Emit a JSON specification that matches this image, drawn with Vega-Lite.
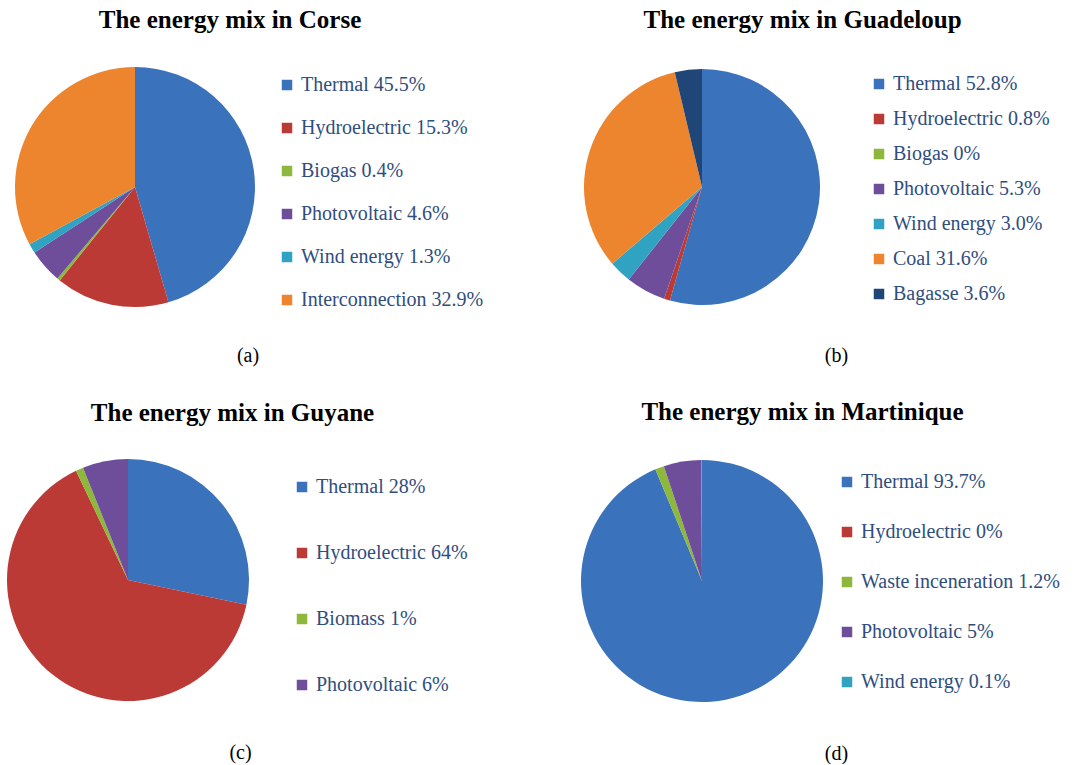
{
  "$schema": "https://vega.github.io/schema/vega-lite/v6.json",
  "background": "white",
  "padding": {"left": 3, "top": 8, "right": 0, "bottom": 0},
  "config": {
    "view": {"stroke": null},
    "title": {"font": "Liberation Serif", "fontSize": 25, "fontWeight": "bold", "color": "#000000"},
    "legend": {"labelFont": "Liberation Serif", "labelFontSize": 20, "labelColor": "#2F4E7E", "symbolType": "square", "symbolSize": 110, "symbolStrokeWidth": 0, "labelOffset": 4, "labelLimit": 400}
  },
  "datasets": {
    "corse": [
      {"source": "Thermal", "value": 45.5, "label": "Thermal 45.5%", "order": 1},
      {"source": "Hydroelectric", "value": 15.3, "label": "Hydroelectric 15.3%", "order": 2},
      {"source": "Biogas", "value": 0.4, "label": "Biogas 0.4%", "order": 3},
      {"source": "Photovoltaic", "value": 4.6, "label": "Photovoltaic 4.6%", "order": 4},
      {"source": "Wind energy", "value": 1.3, "label": "Wind energy 1.3%", "order": 5},
      {"source": "Interconnection", "value": 32.9, "label": "Interconnection 32.9%", "order": 6}
    ],
    "guadeloupe": [
      {"source": "Thermal", "value": 52.8, "label": "Thermal 52.8%", "order": 1},
      {"source": "Hydroelectric", "value": 0.8, "label": "Hydroelectric 0.8%", "order": 2},
      {"source": "Biogas", "value": 0, "label": "Biogas 0%", "order": 3},
      {"source": "Photovoltaic", "value": 5.3, "label": "Photovoltaic 5.3%", "order": 4},
      {"source": "Wind energy", "value": 3.0, "label": "Wind energy 3.0%", "order": 5},
      {"source": "Coal", "value": 31.6, "label": "Coal 31.6%", "order": 6},
      {"source": "Bagasse", "value": 3.6, "label": "Bagasse 3.6%", "order": 7}
    ],
    "guyane": [
      {"source": "Thermal", "value": 28, "label": "Thermal 28%", "order": 1},
      {"source": "Hydroelectric", "value": 64, "label": "Hydroelectric 64%", "order": 2},
      {"source": "Biomass", "value": 1, "label": "Biomass 1%", "order": 3},
      {"source": "Photovoltaic", "value": 6, "label": "Photovoltaic 6%", "order": 4}
    ],
    "martinique": [
      {"source": "Thermal", "value": 93.7, "label": "Thermal 93.7%", "order": 1},
      {"source": "Hydroelectric", "value": 0, "label": "Hydroelectric 0%", "order": 2},
      {"source": "Waste inceneration", "value": 1.2, "label": "Waste inceneration 1.2%", "order": 3},
      {"source": "Photovoltaic", "value": 5, "label": "Photovoltaic 5%", "order": 4},
      {"source": "Wind energy", "value": 0.1, "label": "Wind energy 0.1%", "order": 5}
    ]
  },
  "resolve": {"scale": {"color": "independent"}, "legend": {"color": "independent"}},
  "spacing": 80,
  "hconcat": [
    {
      "resolve": {"scale": {"color": "independent"}, "legend": {"color": "independent"}},
      "spacing": 35,
      "vconcat": [
        {
          "resolve": {"scale": {"color": "independent"}, "legend": {"color": "independent"}},
          "title": {"text": "(a)", "orient": "bottom", "fontSize": 20, "fontWeight": "normal", "anchor": "middle", "frame": "bounds", "offset": 23, "dx": -2},
          "vconcat": [
            {
              "resolve": {"scale": {"color": "independent"}, "legend": {"color": "independent"}},
              "title": {"text": "The energy mix in Corse", "anchor": "middle", "frame": "bounds", "dx": -20, "offset": 29},
              "vconcat": [
                {
                  "width": 264, "height": 250,
                  "data": {"name": "corse"},
                  "mark": {"type": "arc", "radius": 120},
                  "encoding": {
                    "theta": {"field": "value", "type": "quantitative", "stack": true},
                    "order": {"field": "order", "type": "quantitative"},
                    "color": {"field": "label", "type": "nominal", "sort": {"field": "order", "op": "min"},
                      "scale": {"range": ["#3A72BC", "#BC3A36", "#8DB83C", "#6E4D9B", "#31A3C2", "#EC852E"]},
                      "legend": {"title": null, "offset": -3, "padding": 13, "rowPadding": 23}}
                  }
                }
              ]
            }
          ]
        },
        {
          "resolve": {"scale": {"color": "independent"}, "legend": {"color": "independent"}},
          "title": {"text": "(c)", "orient": "bottom", "fontSize": 20, "fontWeight": "normal", "anchor": "middle", "frame": "bounds", "offset": 26, "dx": -6},
          "vconcat": [
            {
              "resolve": {"scale": {"color": "independent"}, "legend": {"color": "independent"}},
              "title": {"text": "The energy mix in Guyane", "anchor": "middle", "frame": "bounds", "dx": -14, "offset": 29},
              "vconcat": [
                {
                  "width": 250, "height": 250,
                  "data": {"name": "guyane"},
                  "mark": {"type": "arc", "radius": 121},
                  "encoding": {
                    "theta": {"field": "value", "type": "quantitative", "stack": true},
                    "order": {"field": "order", "type": "quantitative"},
                    "color": {"field": "label", "type": "nominal", "sort": {"field": "order", "op": "min"},
                      "scale": {"range": ["#3A72BC", "#BC3A36", "#8DB83C", "#6E4D9B"]},
                      "legend": {"title": null, "offset": 17, "padding": 22, "rowPadding": 46}}
                  }
                }
              ]
            }
          ]
        }
      ]
    },
    {
      "resolve": {"scale": {"color": "independent"}, "legend": {"color": "independent"}},
      "spacing": 34,
      "vconcat": [
        {
          "resolve": {"scale": {"color": "independent"}, "legend": {"color": "independent"}},
          "title": {"text": "(b)", "orient": "bottom", "fontSize": 20, "fontWeight": "normal", "anchor": "middle", "frame": "bounds", "offset": 30, "dx": 17},
          "vconcat": [
            {
              "resolve": {"scale": {"color": "independent"}, "legend": {"color": "independent"}},
              "title": {"text": "The energy mix in Guadeloup", "anchor": "middle", "frame": "bounds", "dx": -17, "offset": 29},
              "vconcat": [
                {
                  "width": 250, "height": 250,
                  "data": {"name": "guadeloupe"},
                  "mark": {"type": "arc", "radius": 118},
                  "encoding": {
                    "theta": {"field": "value", "type": "quantitative", "stack": true},
                    "order": {"field": "order", "type": "quantitative"},
                    "color": {"field": "label", "type": "nominal", "sort": {"field": "order", "op": "min"},
                      "scale": {"range": ["#3A72BC", "#BC3A36", "#8DB83C", "#6E4D9B", "#31A3C2", "#EC852E", "#1F4677"]},
                      "legend": {"title": null, "offset": 30, "padding": 12, "rowPadding": 15}}
                  }
                }
              ]
            }
          ]
        },
        {
          "resolve": {"scale": {"color": "independent"}, "legend": {"color": "independent"}},
          "title": {"text": "(d)", "orient": "bottom", "fontSize": 20, "fontWeight": "normal", "anchor": "middle", "frame": "bounds", "offset": 36, "dx": 10},
          "vconcat": [
            {
              "resolve": {"scale": {"color": "independent"}, "legend": {"color": "independent"}},
              "title": {"text": "The energy mix in Martinique", "anchor": "middle", "frame": "bounds", "dx": -24, "offset": 31},
              "vconcat": [
                {
                  "width": 250, "height": 250,
                  "data": {"name": "martinique"},
                  "mark": {"type": "arc", "radius": 121},
                  "encoding": {
                    "theta": {"field": "value", "type": "quantitative", "stack": true},
                    "order": {"field": "order", "type": "quantitative"},
                    "color": {"field": "label", "type": "nominal", "sort": {"field": "order", "op": "min"},
                      "scale": {"range": ["#3A72BC", "#BC3A36", "#8DB83C", "#6E4D9B", "#31A3C2"]},
                      "legend": {"title": null, "offset": -6, "padding": 16, "rowPadding": 30}}
                  }
                }
              ]
            }
          ]
        }
      ]
    }
  ]
}
